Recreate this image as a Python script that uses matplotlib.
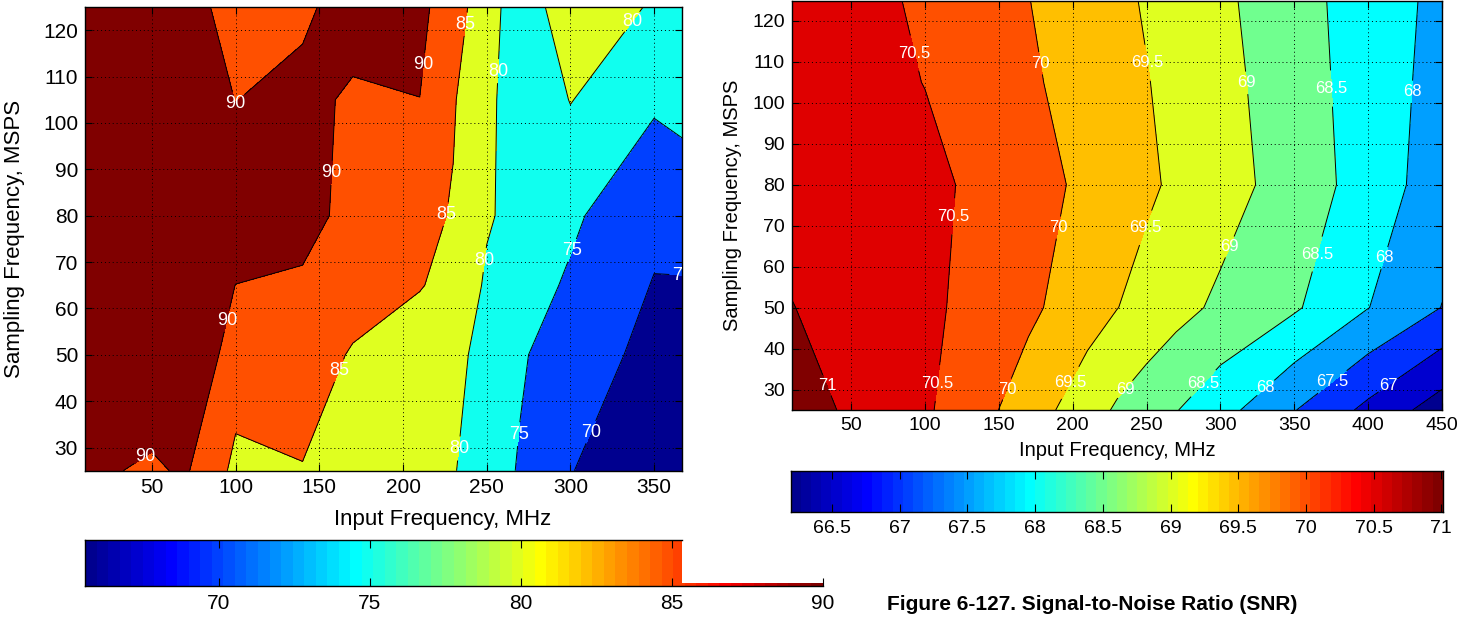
import numpy as np
import matplotlib.pyplot as plt
from matplotlib.colors import ListedColormap

plt.rcParams['font.family'] = ['Liberation Sans', 'DejaVu Sans']

# ---- left map: input frequency (MHz) vs sampling frequency (MSPS) ----
fin_left = [10, 50, 70, 100, 140, 170, 210, 230, 250, 270, 300, 350, 400]
fs_left = [25, 50, 65, 80, 105, 125]
z_left = [
    [90.8, 89.4, 90.56, 83.9, 84.8, 83.0, 82.0, 80.3, 77.3, 74.6, 70.1, 68.0, 66.0],
    [93.0, 93.15, 95.3, 87.34, 87.3, 84.6, 83.0, 81.0, 78.78, 75.5, 72.5, 68.6, 67.0],
    [94.0, 94.0, 94.0, 89.95, 88.5, 87.0, 85.2, 83.87, 79.3, 77.0, 74.4, 69.76, 69.5],
    [94.0, 94.0, 94.0, 93.0, 93.7, 86.76, 86.0, 84.75, 80.5, 78.5, 75.8, 71.2, 74.5],
    [94.0, 94.0, 94.0, 89.9, 92.25, 88.8, 89.97, 85.3, 81.97, 75.4, 80.18, 75.72, 76.0],
    [93.0, 93.0, 92.0, 88.0, 88.5, 93.6, 91.0, 87.67, 81.5, 78.0, 82.0, 79.7, 78.0],
]
levels_left = [70, 75, 80, 85, 90]
clim_left = (65.57, 90.0)
cbar_cut_left = 85.33          # the left colour bar is only full height up to here
cbar_ticks_left = [70, 75, 80, 85, 90]

# ---- right map: SNR ----
fin_right = [10, 50, 100, 140, 170, 210, 230, 250, 270, 300, 350, 400, 450]
fs_right = [25, 50, 80, 105, 125]
z_right = [
    [71.22, 70.93, 70.57, 70.12, 69.75, 69.21, 68.94, 68.73, 68.52, 68.18, 67.52, 66.88, 66.25],
    [71.01, 70.85, 70.61, 70.31, 70.10, 69.71, 69.51, 69.33, 69.15, 68.91, 68.56, 68.01, 67.49],
    [70.85, 70.75, 70.64, 70.37, 70.18, 69.90, 69.74, 69.58, 69.42, 69.20, 68.78, 68.29, 67.73],
    [70.80, 70.70, 70.49, 70.25, 70.07, 69.80, 69.66, 69.52, 69.37, 69.15, 68.73, 68.27, 67.82],
    [70.80, 70.70, 70.41, 70.18, 70.01, 69.73, 69.60, 69.46, 69.31, 69.10, 68.68, 68.27, 67.87],
]
levels_right = [66.5, 67, 67.5, 68, 68.5, 69, 69.5, 70, 70.5, 71]
clim_right = (66.195, 71.01)
cbar_ticks_right = [66.5, 67, 67.5, 68, 68.5, 69, 69.5, 70, 70.5, 71]

# where the in-line contour labels sit
label_pos_left = [(236.6, 121.3), (212, 112.5), (255.2, 111.2), (99.9, 103.0),
                  (338, 121.6), (160, 89.2), (226, 80.3), (249.4, 70.4),
                  (302, 72.4), (367, 67.5), (94.6, 57.5), (160.8, 46.7),
                  (45, 28.5), (233, 29.8), (268.8, 32.9), (309.5, 33.7)]
label_pos_right = [(93.3, 112.2), (179, 109.7), (249, 109.7), (318.3, 104.9),
                   (375, 103.5), (429.3, 102.7), (119, 72.3), (191, 69.5),
                   (249.3, 69.5), (301.7, 65.5), (368.3, 62.8), (410.7, 62.2),
                   (32.3, 30.8), (110, 31.5), (156.3, 30), (199, 31.5),
                   (234, 30.5), (287.3, 31.9), (331, 30.3), (375.7, 31.9),
                   (414, 30.7)]


def matlab_jet(m=64):
    n = int(np.ceil(m / 4))
    u = np.r_[np.arange(1, n + 1) / n, np.ones(n - 1), np.arange(n, 0, -1) / n]
    g = int(np.ceil(n / 2)) - (m % 4 == 1) + np.arange(1, len(u) + 1)
    r = g + n
    b = g - n
    J = np.zeros((m, 3))
    gi = g[g <= m]
    J[gi - 1, 1] = u[:len(gi)]
    ri = r[r <= m]
    J[ri - 1, 0] = u[:len(ri)]
    bi = b[b >= 1]
    J[bi - 1, 2] = u[len(u) - len(bi):]
    return J


JET = matlab_jet(64)
jet_cmap = ListedColormap(JET)


def region_colors(levels, clim):
    # MATLAB colours a filled band by its lower level
    lows = [clim[0]] + list(levels)
    out = []
    for v in lows:
        i = int((v - clim[0]) / (clim[1] - clim[0]) * 64)
        out.append(JET[min(max(i, 0), 63)])
    return out


def contour_panel(ax, x, y, z, levels, clim, label_pos, fs_tick, fs_lab, fs_clab):
    z = np.array(z)
    lv = [z.min() - 1] + list(levels) + [z.max() + 1]
    ax.contourf(x, y, z, levels=lv, colors=region_colors(levels, clim))
    cs = ax.contour(x, y, z, levels=levels, colors='k', linewidths=0.7)
    texts = ax.clabel(cs, manual=label_pos, inline=True, inline_spacing=2,
                      fmt='%g', colors='white', fontsize=fs_clab)
    for t in texts:
        t.set_rotation(0)
        t.set_clip_on(True)
    ax.set_axisbelow(False)
    ax.grid(True, linestyle=(0, (1, 3)), color='k', linewidth=0.7)
    ax.tick_params(direction='in', top=True, right=True, length=5, width=0.8,
                   labelsize=fs_tick, pad=5)
    for s in ax.spines.values():
        s.set_linewidth(1.0)
    ax.set_xlabel('Input Frequency, MHz', fontsize=fs_lab)
    ax.set_ylabel('Sampling Frequency, MSPS', fontsize=fs_lab)


def gradient_bar(cax, clim, cut, ticks, fs):
    edges = np.linspace(clim[0], clim[1], 65)
    lo = edges[edges < cut]
    e_lo = np.r_[lo, cut]
    idx_lo = np.arange(len(lo))
    cax.pcolormesh(e_lo, [0, 1], idx_lo[None, :], cmap=jet_cmap,
                   vmin=-0.5, vmax=63.5)
    if cut < clim[1]:
        e_hi = np.r_[cut, edges[edges > cut]]
        idx_hi = np.arange(len(lo) - 1, 64)
        cax.pcolormesh(e_hi, [0, 0.066], idx_hi[None, :], cmap=jet_cmap,
                       vmin=-0.5, vmax=63.5)
        cax.spines['top'].set_bounds(clim[0], cut)
        cax.spines['right'].set_visible(False)
    cax.set_xlim(clim)
    cax.set_ylim(0, 1)
    cax.set_yticks([])
    cax.set_xticks(ticks)
    cax.set_xticklabels(['%g' % t for t in ticks])
    cax.tick_params(axis='x', direction='in', top=True, bottom=True, length=6,
                    width=0.8, labelsize=fs, pad=6)
    if cut < clim[1]:
        for tk in cax.xaxis.get_major_ticks():
            if tk.get_loc() > cut:
                tk.tick2line.set_visible(False)
    for s in cax.spines.values():
        s.set_linewidth(1.0)


W, H = 1472, 620
fig = plt.figure(figsize=(W / 100, H / 100), dpi=100)
ax1 = fig.add_axes([85 / W, 1 - 470.7 / H, 596.7 / W, 463.7 / H])
ax2 = fig.add_axes([792 / W, 1 - 410 / H, 650 / W, 409.5 / H])
cax1 = fig.add_axes([85 / W, 1 - 585.7 / H, 738 / W, 45.7 / H])
cax2 = fig.add_axes([790.7 / W, 1 - 511.5 / H, 652 / W, 40.5 / H])

contour_panel(ax1, fin_left, fs_left, z_left, levels_left, clim_left,
              label_pos_left, 15, 16, 13)
ax1.set_xlim(10, 366.5)
ax1.set_ylim(25, 125)
ax1.set_xticks(range(50, 351, 50))
ax1.set_yticks(range(30, 121, 10))
ax1.xaxis.set_label_coords(0.6, -0.083)
ax1.yaxis.set_label_coords(-0.1, 0.5)

contour_panel(ax2, fin_right, fs_right, z_right, levels_right, clim_right,
              label_pos_right, 14, 14.5, 12)
ax2.set_xlim(10, 450)
ax2.set_ylim(25, 125)
ax2.set_xticks(range(50, 451, 50))
ax2.set_yticks(range(30, 121, 10))
ax2.xaxis.set_label_coords(0.5, -0.075)
ax2.yaxis.set_label_coords(-0.077, 0.5)

gradient_bar(cax1, clim_left, cbar_cut_left, cbar_ticks_left, 15)
gradient_bar(cax2, clim_right, clim_right[1], cbar_ticks_right, 14)

fig.text(887 / W, 1 - 605 / H, 'Figure 6-127. Signal-to-Noise Ratio (SNR)',
         fontsize=15, fontweight='bold', ha='left', va='center')

fig.savefig('out.png', dpi=100)
